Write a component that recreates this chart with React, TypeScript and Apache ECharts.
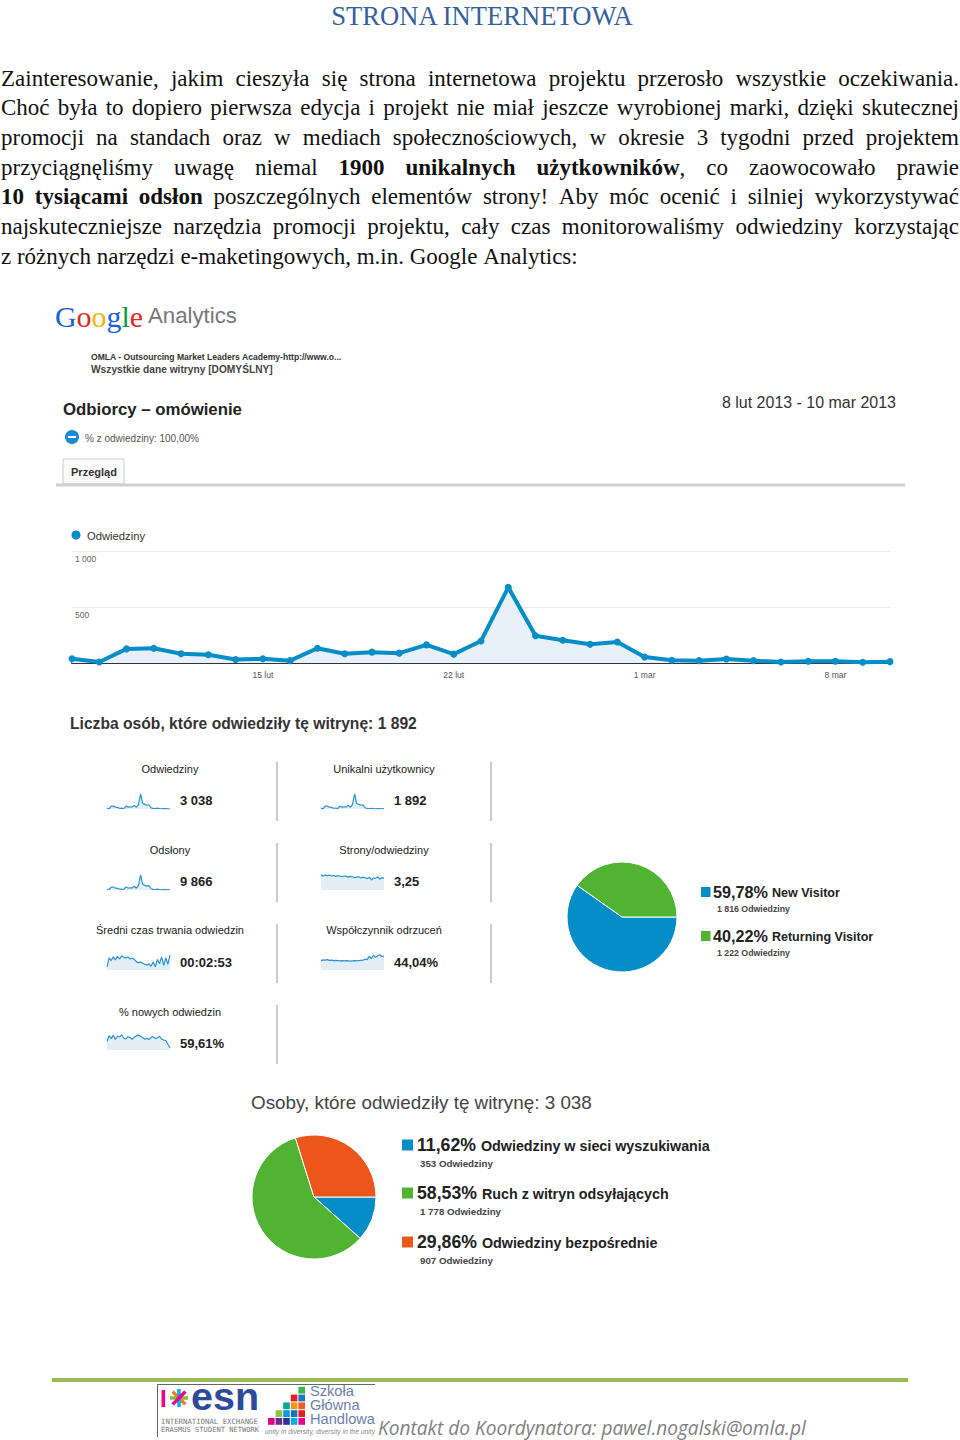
import React, { useEffect, useRef } from "react";
import * as echarts from "echarts";

// ---------------- DATA ----------------
const dates = [
  "8 lut", "9 lut", "10 lut", "11 lut", "12 lut", "13 lut", "14 lut", "15 lut", "16 lut", "17 lut",
  "18 lut", "19 lut", "20 lut", "21 lut", "22 lut", "23 lut", "24 lut", "25 lut", "26 lut", "27 lut",
  "28 lut", "1 mar", "2 mar", "3 mar", "4 mar", "5 mar", "6 mar", "7 mar", "8 mar", "9 mar", "10 mar",
];
const dateTicks = ["15 lut", "22 lut", "1 mar", "8 mar"];
const visits = [38, 9, 126, 132, 82, 74, 32, 38, 21, 132, 82, 97, 88, 162, 79, 197, 676, 244, 203, 168, 188, 53, 24, 21, 35, 21, 9, 15, 15, 6, 12];
const yMin = 0;
const yMax = 1000;
const yStep = 500;

const sparkUnique = [26, 7, 80, 84, 52, 47, 21, 24, 14, 84, 52, 62, 56, 103, 50, 125, 430, 155, 129, 107, 120, 34, 15, 14, 22, 14, 6, 10, 10, 4, 8];
const sparkPageviews = [140, 35, 400, 420, 260, 240, 110, 125, 75, 430, 270, 320, 290, 520, 255, 640, 2150, 790, 660, 545, 610, 175, 80, 70, 115, 70, 30, 50, 50, 20, 40];
const sparkPagesPerVisit = [3.8, 3.5, 3.7, 3.6, 3.7, 3.5, 3.6, 3.4, 3.6, 3.5, 3.3, 3.5, 3.4, 3.2, 3.4, 3.3, 3.1, 3.2, 3.3, 3.0, 3.2, 3.1, 2.8, 3.2, 2.5, 3.0, 2.9, 3.3, 2.7, 3.1, 2.9];
const sparkAvgDuration = [60, 230, 180, 250, 190, 260, 210, 270, 240, 230, 250, 210, 230, 200, 160, 140, 150, 130, 110, 90, 120, 70, 150, 60, 200, 120, 250, 90, 230, 110, 290];
const sparkBounce = [38, 41, 40, 42, 39, 40, 38, 39, 38, 37, 38, 37, 38, 37, 36, 37, 38, 37, 38, 39, 40, 44, 42, 56, 46, 60, 52, 58, 62, 54, 58];
const sparkNewPct = [45, 75, 60, 78, 55, 72, 68, 80, 62, 58, 70, 64, 56, 68, 74, 78, 72, 64, 56, 62, 54, 66, 70, 60, 64, 72, 58, 52, 50, 30, 12];

const metricTitles = ["Odwiedziny", "Unikalni użytkownicy", "Odsłony", "Strony/odwiedziny", "Średni czas trwania odwiedzin", "Współczynnik odrzuceń", "% nowych odwiedzin"];
const metricValues = ["3 038", "1 892", "9 866", "3,25", "00:02:53", "44,04%", "59,61%"];
const metricSeries = [visits, sparkUnique, sparkPageviews, sparkPagesPerVisit, sparkAvgDuration, sparkBounce, sparkNewPct];

const pie1Names = ["New Visitor", "Returning Visitor"];
const pie1Counts = [1816, 1222];
const pie2Names = ["Odwiedziny w sieci wyszukiwania", "Ruch z witryn odsyłających", "Odwiedziny bezpośrednie"];
const pie2Counts = [353, 1778, 907];
const countUnit = "Odwiedziny";

const pageTitle = "STRONA INTERNETOWA";
const paragraphLines = [
  "Zainteresowanie, jakim cieszyła się strona internetowa projektu przerosło wszystkie oczekiwania.",
  "Choć była to dopiero pierwsza edycja i projekt nie miał jeszcze wyrobionej marki, dzięki skutecznej",
  "promocji na standach oraz w mediach społecznościowych, w okresie 3 tygodni przed projektem",
  "przyciągnęliśmy uwagę niemal *1900* *unikalnych* *użytkowników*, co zaowocowało prawie",
  "*10* *tysiącami* *odsłon* poszczególnych elementów strony! Aby móc ocenić i silniej wykorzystywać",
  "najskuteczniejsze narzędzia promocji projektu, cały czas monitorowaliśmy odwiedziny korzystając",
  "z różnych narzędzi e-maketingowych, m.in. Google Analytics:",
];

// ---------------- HELPERS ----------------
const SANS = '"Liberation Sans", Arial, sans-serif';
const SERIF = '"Liberation Serif", "Times New Roman", serif';
const OPEN = '"Open Sans", sans-serif';
const MONO = '"DejaVu Sans Mono", monospace';

const GA_BLUE = "#058dc7";
const PIE_COLORS = ["#058DC7", "#50B432", "#ED561B"];

function font(size: number, weight = "normal", family = SANS, style = "normal") {
  return `${style !== "normal" ? style + " " : ""}${weight !== "normal" ? weight + " " : ""}${size.toFixed(2)}px ${family}`;
}
function fmtNum(n: number) {
  return String(n).replace(/\B(?=(\d{3})+(?!\d))/g, " ");
}
function pct(c: number, total: number) {
  return ((c / total) * 100).toFixed(2).replace(".", ",") + "%";
}

function buildOption() {
  const canvas = document.createElement("canvas");
  const ctx = canvas.getContext("2d")!;
  const measure = (t: string, f: string) => {
    ctx.font = f;
    return ctx.measureText(t).width;
  };
  const fit = (t: string, width: number, weight = "normal", family = SANS, style = "normal") =>
    (100 * width) / measure(t, font(100, weight, family, style));

  const g: any[] = [];
  const txt = (text: string, x: number, y: number, f: string, fill: string, align = "left") =>
    g.push({ type: "text", silent: true, style: { text, x, y, font: f, fill, textAlign: align, textVerticalAlign: "middle" } });
  const rect = (x: number, y: number, w: number, h: number, fill: string, stroke?: string) =>
    g.push({ type: "rect", silent: true, shape: { x, y, width: w, height: h }, style: stroke ? { fill, stroke, lineWidth: 1 } : { fill } });
  const line = (x1: number, y1: number, x2: number, y2: number, stroke: string, lw: number) =>
    g.push({ type: "line", silent: true, shape: { x1, y1, x2, y2 }, style: { stroke, lineWidth: lw } });

  // Title
  txt(pageTitle, 482, 16, font(fit(pageTitle, 303, "normal", SERIF), "normal", SERIF), "#36609a", "center");

  // Justified paragraph
  {
    const L = 1, R = 959, W = R - L;
    const parsed = paragraphLines.map((ln) =>
      ln.split(" ").map((w) => w.split("*").map((t, i) => ({ t, b: i % 2 === 1 })).filter((p) => p.t.length > 0))
    );
    const widthAt = (size: number) =>
      parsed.map((words) => words.map((parts) => parts.reduce((s, p) => s + measure(p.t, font(size, p.b ? "bold" : "normal", SERIF)), 0)));
    let size = 23;
    while (size > 14) {
      const ws = widthAt(size);
      const ok = ws.every((arr, li) => li === parsed.length - 1 || arr.reduce((a, b) => a + b, 0) + (arr.length - 1) * size * 0.22 <= W);
      if (ok) break;
      size -= 0.25;
    }
    const ws = widthAt(size);
    parsed.forEach((words, li) => {
      const y = 78 + li * 29.7;
      const total = ws[li].reduce((a, b) => a + b, 0);
      const last = li === parsed.length - 1;
      const gap = last ? measure(" ", font(size, "normal", SERIF)) : (W - total) / (words.length - 1);
      let x = L;
      words.forEach((parts, wi) => {
        let px = x;
        parts.forEach((p) => {
          const f = font(size, p.b ? "bold" : "normal", SERIF);
          txt(p.t, px, y, f, "#111111");
          px += measure(p.t, f);
        });
        x += ws[li][wi] + gap;
      });
    });
  }

  // Google Analytics logo
  {
    const gs = fit("Google", 88, "normal", SERIF);
    const gf = font(gs, "normal", SERIF);
    const letters = ["G", "o", "o", "g", "l", "e"];
    const cols = ["#1c5fd8", "#d62d20", "#f4b400", "#1c5fd8", "#119a3e", "#d62d20"];
    let cx = 55;
    letters.forEach((l, i) => {
      txt(l, cx, 316, gf, cols[i]);
      cx += measure(l, gf);
    });
    txt("Analytics", 148, 315, font(fit("Analytics", 89), "normal", SANS), "#777777");
  }
  const omla = "OMLA - Outsourcing Market Leaders Academy-http://www.o...";
  txt(omla, 91, 357, font(fit(omla, 251, "bold"), "bold"), "#333");
  const wsz = "Wszystkie dane witryny [DOMYŚLNY]";
  txt(wsz, 91, 369, font(fit(wsz, 182, "bold"), "bold"), "#444");
  const odb = "Odbiorcy – omówienie";
  txt(odb, 63, 409, font(fit(odb, 179, "bold"), "bold"), "#222");
  const range = "8 lut 2013 - 10 mar 2013";
  txt(range, 896, 402, font(fit(range, 174)), "#333", "right");
  g.push({ type: "circle", silent: true, shape: { cx: 72, cy: 437, r: 7 }, style: { fill: "#1a8bd0" } });
  line(68, 437, 76, 437, "#fff", 2);
  const pz = "% z odwiedziny: 100,00%";
  txt(pz, 85, 438, font(fit(pz, 114)), "#555");
  rect(63, 459, 61, 25, "#fbfbfb", "#cccccc");
  txt("Przegląd", 71, 472, font(fit("Przegląd", 46, "bold"), "bold"), "#333");
  line(56, 485, 905, 485, "#cfcfcf", 3);

  // main chart legend
  g.push({ type: "circle", silent: true, shape: { cx: 76, cy: 535, r: 4.5 }, style: { fill: GA_BLUE } });
  txt("Odwiedziny", 87, 536, font(fit("Odwiedziny", 58)), "#333");

  // metrics
  const liczba = "Liczba osób, które odwiedziły tę witrynę: " + metricValues[1];
  txt(liczba, 70, 723, font(fit(liczba, 347, "bold"), "bold"), "#333");
  const colCenter = [170, 384];
  const sparkLeft = [107, 321];
  const valueX = [180, 394];
  const sepX = [277, 491];
  const rowTitleY = [769, 850, 930, 1012];
  const rowSparkTop = [793, 874, 954, 1034];
  const rowValueY = [800, 881, 962, 1043];
  const rowSepTop = [762, 843, 924, 1005];
  const titleFont = font(11);
  const valueFont = font(13, "bold");
  const grids: any[] = [];
  const xAxes: any[] = [];
  const yAxes: any[] = [];
  const sparkSeries: any[] = [];
  metricTitles.forEach((t, i) => {
    const c = i % 2, r = Math.floor(i / 2);
    txt(t, colCenter[c], rowTitleY[r], titleFont, "#1a1a1a", "center");
    txt(metricValues[i], valueX[c], rowValueY[r], valueFont, "#222");
    line(sepX[c], rowSepTop[r], sepX[c], rowSepTop[r] + 59, "#cccccc", 2);
    grids.push({ left: sparkLeft[c], top: rowSparkTop[r], width: 63, height: 16, outerBoundsMode: "none" });
    const gi = grids.length; // main grid is index 0
    xAxes.push({ type: "category", gridIndex: gi, data: dates, boundaryGap: false, show: false });
    yAxes.push({ type: "value", gridIndex: gi, min: 0, max: (v: any) => v.max * 1.05, show: false });
    sparkSeries.push({
      type: "line",
      name: t,
      xAxisIndex: gi,
      yAxisIndex: gi,
      data: metricSeries[i],
      showSymbol: false,
      silent: true,
      lineStyle: { width: 1.2, color: "#2d93cf" },
      areaStyle: { color: "#e3eef7", opacity: 1 },
    });
  });

  // pie 1 legend
  {
    const total = pie1Counts.reduce((a, b) => a + b, 0);
    const pf = font(fit(pct(pie1Counts[0], total), 55, "bold"), "bold");
    const nf = font(fit(pie1Names[0], 68, "bold"), "bold");
    const sf = font(fit(fmtNum(pie1Counts[0]) + " " + countUnit, 73, "bold"), "bold");
    const ys = [892, 936];
    pie1Names.forEach((n, i) => {
      const y = ys[i];
      rect(701, y - 5, 9.5, 10, PIE_COLORS[i === 0 ? 0 : 1]);
      const p = pct(pie1Counts[i], total);
      txt(p, 713, y, pf, "#222");
      txt(n, 713 + measure(p, pf) + 4, y + 1, nf, "#222");
      txt(fmtNum(pie1Counts[i]) + " " + countUnit, 717, y + 17, sf, "#444");
    });
  }
  // pie 2 title & legend
  {
    const total = pie2Counts.reduce((a, b) => a + b, 0);
    const os = "Osoby, które odwiedziły tę witrynę: " + fmtNum(total);
    txt(os, 251, 1102, font(fit(os, 341)), "#444");
    const pf = font(fit(pct(pie2Counts[0], total), 59, "bold"), "bold");
    const nf = font(fit(pie2Names[0], 229, "bold"), "bold");
    const sf = font(fit(fmtNum(pie2Counts[0]) + " " + countUnit, 73, "bold"), "bold");
    const ys = [1145, 1193, 1242];
    pie2Names.forEach((n, i) => {
      const y = ys[i];
      rect(402, y - 5.5, 11, 11, PIE_COLORS[i]);
      const p = pct(pie2Counts[i], total);
      txt(p, 417, y, pf, "#222");
      txt(n, 417 + measure(p, pf) + 5, y + 1, nf, "#222");
      txt(fmtNum(pie2Counts[i]) + " " + countUnit, 420, y + 18.5, sf, "#444");
    });
  }

  // footer
  line(52, 1380, 908, 1380, "#9bbb59", 4);
  line(157, 1384.5, 375, 1384.5, "#666", 1);
  line(157.5, 1384, 157.5, 1437, "#666", 1);
  txt("I", 160, 1398, font(24, "bold"), "#ec008c");
  const starC = [1398, 179];
  const starCols = ["#7ac143", "#f47b20", "#00aeef", "#ec008c"];
  [0, 45, 90, 135].forEach((a, i) => {
    const rad = (a * Math.PI) / 180;
    const dx = Math.cos(rad) * 9, dy = Math.sin(rad) * 9;
    line(starC[1] - dx, starC[0] - dy, starC[1] + dx, starC[0] + dy, starCols[i], 3.5);
  });
  txt("esn", 191, 1396, font(fit("esn", 68, "bold"), "bold"), "#2e4a9c");
  txt("INTERNATIONAL EXCHANGE", 161, 1421, font(fit("INTERNATIONAL EXCHANGE", 97, "normal", MONO), "normal", MONO), "#777");
  txt("ERASMUS STUDENT NETWORK", 161, 1429, font(fit("ERASMUS STUDENT NETWORK", 98, "normal", MONO), "normal", MONO), "#777");
  const sq = ["#e4007c", "#6a2c91", "#8dc63f", "#2e3192", "#00a0e0", "#00a99d", "#00aeef", "#1c75bc", "#f7941d", "#ed1c24", "#ec008c", "#ed1c24", "#f15a29", "#1c75bc", "#39b54a"];
  let k = 0;
  for (let c = 0; c < 5; c++) {
    for (let r = 0; r <= c; r++) {
      rect(268 + c * 7.6, 1418 - r * 7.8, 6.6, 6.8, sq[k++ % sq.length]);
    }
  }
  const sghSize = fit("Handlowa", 65);
  txt("Szkoła", 310, 1391, font(sghSize), "#6d7fa8");
  txt("Główna", 310, 1405, font(sghSize), "#6d7fa8");
  txt("Handlowa", 310, 1419, font(sghSize), "#6d7fa8");
  const unity = "unity in diversity, diversity in the unity";
  txt(unity, 265, 1431.5, font(fit(unity, 110, "normal", SANS, "italic"), "normal", SANS, "italic"), "#8a8a8a");
  const kontakt = "Kontakt do Koordynatora: pawel.nogalski@omla.pl";
  txt(kontakt, 378, 1428, font(fit(kontakt, 428, "normal", OPEN, "italic"), "normal", OPEN, "italic"), "#808080");

  return {
    animation: false,
    backgroundColor: "#ffffff",
    grid: [{ left: 72, right: 70, top: 551, height: 112, outerBoundsMode: "none" }, ...grids],
    xAxis: [
      {
        type: "category",
        gridIndex: 0,
        data: dates,
        boundaryGap: false,
        axisLine: { lineStyle: { color: "#333", width: 2 } },
        axisTick: { show: false },
        axisLabel: {
          interval: (_i: number, v: string) => dateTicks.includes(v),
          fontSize: 8.5,
          color: "#555",
          margin: 7,
          fontFamily: "Liberation Sans",
        },
        splitLine: { show: false },
      },
      ...xAxes,
    ],
    yAxis: [
      {
        type: "value",
        gridIndex: 0,
        min: yMin,
        max: yMax,
        interval: yStep,
        axisLine: { show: false },
        axisTick: { show: false },
        axisLabel: {
          inside: true,
          margin: 3,
          verticalAlign: "top",
          padding: [3, 0, 0, 0],
          fontSize: 8.5,
          color: "#666",
          fontFamily: "Liberation Sans",
          formatter: (v: number) => (v === 0 ? "" : fmtNum(v)),
        },
        splitLine: { lineStyle: { color: "#ebebeb", width: 1 } },
      },
      ...yAxes,
    ],
    series: [
      {
        type: "line",
        name: "Odwiedziny",
        xAxisIndex: 0,
        yAxisIndex: 0,
        data: visits,
        symbol: "circle",
        symbolSize: 7,
        z: 3,
        lineStyle: { width: 4, color: GA_BLUE },
        itemStyle: { color: GA_BLUE },
        areaStyle: { color: "#e8f0f9", opacity: 1 },
      },
      ...sparkSeries,
      {
        type: "pie",
        name: "Typ odwiedzających",
        center: [622, 917],
        radius: 55,
        startAngle: 0,
        clockwise: true,
        label: { show: false },
        labelLine: { show: false },
        itemStyle: { borderColor: "#fff", borderWidth: 1 },
        data: pie1Names.map((n, i) => ({ name: n, value: pie1Counts[i], itemStyle: { color: PIE_COLORS[i] } })),
      },
      {
        type: "pie",
        name: "Źródła ruchu",
        center: [314, 1197],
        radius: 62,
        startAngle: 0,
        clockwise: true,
        label: { show: false },
        labelLine: { show: false },
        itemStyle: { borderColor: "#fff", borderWidth: 1 },
        data: pie2Names.map((n, i) => ({ name: n, value: pie2Counts[i], itemStyle: { color: PIE_COLORS[i] } })),
      },
    ],
    graphic: { elements: g },
  };
}

export default function App() {
  const ref = useRef<HTMLDivElement>(null);
  useEffect(() => {
    if (!ref.current) return;
    const chart = echarts.init(ref.current, null, { renderer: "svg" });
    chart.setOption(buildOption() as any);
    return () => chart.dispose();
  }, []);
  return (
    <div
      ref={ref}
      style={{ position: "absolute", left: 0, top: 0, width: 960, height: 1440, background: "#fff" }}
    />
  );
}
